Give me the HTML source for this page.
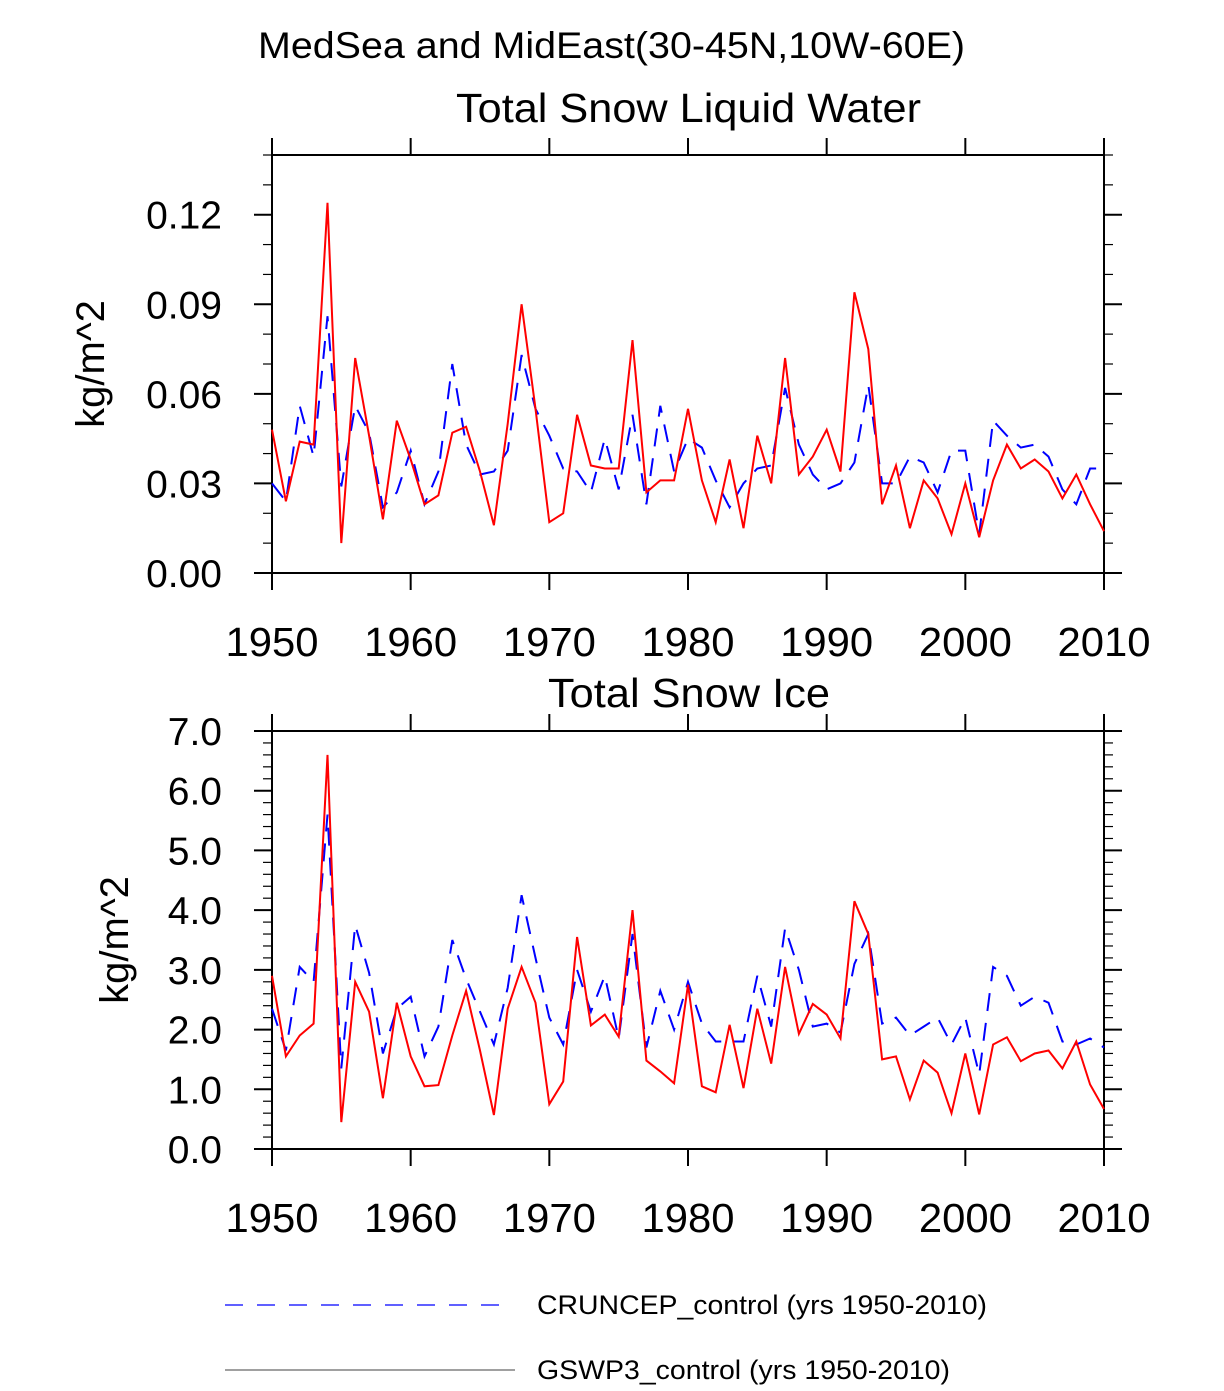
<!DOCTYPE html>
<html><head><meta charset="utf-8"><style>
body{margin:0;background:#fff;}
svg text{font-family:"Liberation Sans",sans-serif;fill:#000;}
</style></head><body>
<svg id="c" width="1224" height="1386" viewBox="0 0 1224 1386" xmlns="http://www.w3.org/2000/svg">
<text x="258" y="58" font-size="37" textLength="707" lengthAdjust="spacingAndGlyphs">MedSea and MidEast(30-45N,10W-60E)</text>
<text x="456" y="122" font-size="41" textLength="465" lengthAdjust="spacingAndGlyphs">Total Snow Liquid Water</text>
<text x="548" y="707" font-size="41" textLength="282" lengthAdjust="spacingAndGlyphs">Total Snow Ice</text>
<g id="p1"></g>
<g id="p2"></g>
<g>
<line x1="225" y1="1305" x2="502" y2="1305" stroke="#0000ff" stroke-width="1.2" stroke-dasharray="18,14"/>
<text x="537" y="1314" font-size="27" textLength="450" lengthAdjust="spacingAndGlyphs">CRUNCEP_control (yrs 1950-2010)</text>
<line x1="225" y1="1370" x2="515" y2="1370" stroke="#000" stroke-width="0.8"/>
<text x="537" y="1379" font-size="27" textLength="413" lengthAdjust="spacingAndGlyphs">GSWP3_control (yrs 1950-2010)</text>
</g>
</svg>
<script>
const years = [];
for (let y = 1950; y <= 2010; y++) years.push(y);
const xTickLabels = ["1950","1960","1970","1980","1990","2000","2010"];
const liqTickLabels = ["0.00","0.03","0.06","0.09","0.12"];
const iceTickLabels = ["0.0","1.0","2.0","3.0","4.0","5.0","6.0","7.0"];
const liqGswp3 = [.048,.024,.044,.043,.124,.010,.072,.046,.018,.051,.038,.023,.026,.047,.049,.034,.016,.050,.090,.055,.017,.020,.053,.036,.035,.035,.078,.027,.031,.031,.055,.031,.017,.038,.015,.046,.030,.072,.033,.039,.048,.034,.094,.075,.023,.036,.015,.031,.025,.013,.030,.012,.031,.043,.035,.038,.034,.025,.033,.023,.014];
const liqCruncep = [.030,.024,.056,.039,.086,.029,.056,.047,.022,.027,.041,.023,.034,.070,.043,.033,.034,.041,.073,.055,.046,.035,.034,.027,.045,.028,.053,.023,.056,.034,.045,.042,.031,.022,.030,.035,.036,.062,.043,.033,.028,.030,.037,.063,.030,.030,.039,.037,.027,.041,.041,.013,.051,.046,.042,.043,.039,.028,.023,.035,.035];
const iceGswp3 = [2.9,1.55,1.9,2.1,6.6,0.45,2.8,2.3,0.85,2.45,1.55,1.05,1.07,1.9,2.65,1.65,0.57,2.35,3.05,2.45,0.75,1.13,3.55,2.07,2.25,1.88,4.0,1.48,1.3,1.1,2.75,1.05,0.95,2.08,1.02,2.35,1.43,3.05,1.93,2.43,2.25,1.85,4.15,3.6,1.5,1.55,0.83,1.48,1.28,0.6,1.6,0.58,1.75,1.87,1.47,1.6,1.65,1.35,1.8,1.08,0.67];
const iceCruncep = [2.35,1.65,3.05,2.8,5.6,1.35,3.75,2.95,1.6,2.35,2.55,1.55,2.05,3.5,2.85,2.3,1.75,2.7,4.25,3.2,2.2,1.75,3.0,2.3,2.9,1.85,3.6,1.7,2.65,2.0,2.8,2.1,1.8,1.8,1.8,2.9,2.05,3.7,3.0,2.05,2.1,1.95,3.1,3.6,2.1,2.2,1.9,2.05,2.2,1.75,2.2,1.25,3.05,2.9,2.4,2.55,2.45,1.8,1.75,1.85,1.7];

const NS = "http://www.w3.org/2000/svg";
function mk(tag, attrs, parent) {
  const e = document.createElementNS(NS, tag);
  for (const k in attrs) e.setAttribute(k, attrs[k]);
  parent.appendChild(e);
  return e;
}
function panel(g, top, bot, ymin, ymax, labels, minorStep, series1, series2, titleY) {
  const L = 272, R = 1104;
  const xs = v => L + (v - 1950) / 60 * (R - L);
  const ys = v => bot - (v - ymin) / (ymax - ymin) * (bot - top);
  const box = mk('rect', {x: L, y: top, width: R - L, height: bot - top, fill: 'none', stroke: '#000', 'stroke-width': 2}, g);
  
  
  xTickLabels.forEach(lbl => {
    const x = xs(+lbl);
    const t1 = mk('line', {x1: x, y1: bot, x2: x, y2: bot + 17, stroke: '#000', 'stroke-width': 2}, g);
    
    
    const t2 = mk('line', {x1: x, y1: top, x2: x, y2: top - 17, stroke: '#000', 'stroke-width': 2}, g);
    
    
    const tx = mk('text', {x: x, y: bot + 83, 'font-size': 41, 'text-anchor': 'middle', textLength: 93, lengthAdjust: 'spacingAndGlyphs'}, g);
    tx.textContent = lbl;
    
    
  });
  for (let v = ymin; v <= ymax + 1e-9; v += minorStep) {
    const y = ys(v);
    [[L, L - 9], [R, R + 9]].forEach(p => {
      const m = mk('line', {x1: p[0], y1: y, x2: p[1], y2: y, stroke: '#000', 'stroke-width': 1.2}, g);
      
      
    });
  }
  labels.forEach(lbl => {
    const y = ys(+lbl);
    [[L, L - 18], [R, R + 18]].forEach(p => {
      const m = mk('line', {x1: p[0], y1: y, x2: p[1], y2: y, stroke: '#000', 'stroke-width': 2}, g);
      
      
    });
    const t = mk('text', {x: 222, y: y + 14, 'font-size': 39, 'text-anchor': 'end'}, g);
    t.textContent = lbl;
    
    
  });
  const yt = mk('text', {x: 0, y: 0, 'font-size': 40, 'text-anchor': 'middle', transform: 'translate(' + titleY + ',' + ((top + bot) / 2) + ') rotate(-90)'}, g);
  yt.textContent = 'kg/m^2';
  
  
  const d1 = series1.map((v, i) => (i ? 'L' : 'M') + xs(years[i]).toFixed(1) + ' ' + ys(v).toFixed(1)).join(' ');
  const p1 = mk('path', {d: d1, fill: 'none', stroke: '#0000ff', 'stroke-width': 2, 'stroke-dasharray': '18,12'}, g);
  
  
  const d2 = series2.map((v, i) => (i ? 'L' : 'M') + xs(years[i]).toFixed(1) + ' ' + ys(v).toFixed(1)).join(' ');
  const p2 = mk('path', {d: d2, fill: 'none', stroke: '#ff0000', 'stroke-width': 2}, g);
  
  
}
panel(document.getElementById('p1'), 155, 573, 0, 0.14, liqTickLabels, 0.01, liqCruncep, liqGswp3, 104);
panel(document.getElementById('p2'), 731, 1149, 0, 7, iceTickLabels, 0.2, iceCruncep, iceGswp3, 128);
</script>
</body></html>
